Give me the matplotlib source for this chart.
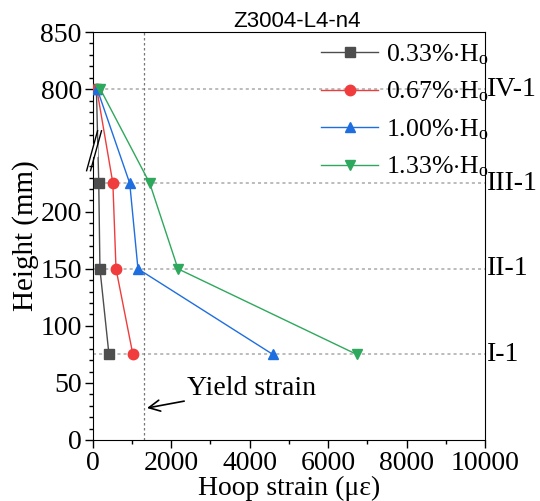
import matplotlib
matplotlib.use("Agg")
import matplotlib.pyplot as plt
import numpy as np

plt.rcParams['font.family'] = ['Liberation Serif', 'DejaVu Serif']
plt.rcParams['mathtext.fontset'] = 'custom'
plt.rcParams['mathtext.rm'] = 'Liberation Serif'
plt.rcParams['mathtext.it'] = 'Liberation Serif:italic'

# data
heights = [800, 225, 150, 75]
drift_labels = [r"0.33%$\cdot$H$_\mathrm{o}$", r"0.67%$\cdot$H$_\mathrm{o}$",
                r"1.00%$\cdot$H$_\mathrm{o}$", r"1.33%$\cdot$H$_\mathrm{o}$"]
strain_033 = [90, 150, 180, 410]
strain_067 = [100, 510, 590, 1020]
strain_100 = [110, 940, 1150, 4590]
strain_133 = [190, 1450, 2170, 6730]
gauge_names = ["IV-1", "III-1", "II-1", "I-1"]
yield_strain = 1300
ytick_vals = [0, 50, 100, 150, 200, 800, 850]

# broken axis: heights above the break are shifted down
BREAK = 250
SHIFT = 492.5


def yt(v):
    v = np.asarray(v, dtype=float)
    return np.where(v > BREAK, v - SHIFT, v)


fig = plt.figure(figsize=(5.4, 5.01), dpi=100)
ax = fig.add_axes([0.172, 0.1218, 0.726, 0.8142])
ytop = float(yt(850))

for h in heights:
    ax.axhline(yt(h), color='#aaaaaa', ls=(0, (2, 2)), lw=1.1, zorder=1)
ax.axvline(yield_strain, color='#777777', ls=(0, (2, 2)), lw=0.9, zorder=1)

styles = [('#4d4d4d', 's'), ('#f03c3c', 'o'), ('#1e6ee0', '^'), ('#2ea85c', 'v')]
for vals, lab, (c, m) in zip([strain_033, strain_067, strain_100, strain_133], drift_labels, styles):
    ax.plot(vals, yt(heights), color=c, marker=m, ms=7.5, lw=1, label=lab, zorder=3)

ax.set_xlim(0, 10000)
ax.set_ylim(0, ytop)
ax.set_xticks(np.arange(0, 10001, 2000))
ax.set_xticks(np.arange(1000, 10000, 2000), minor=True)
ax.set_yticks(yt(ytick_vals))
ax.set_yticklabels([str(v) for v in ytick_vals])
minor_y = [v for v in range(10, 250, 10) if v % 50] + [v for v in range(750, 850, 10) if v != 800]
ax.set_yticks(yt(minor_y), minor=True)
ax.tick_params(which='major', direction='out', length=6, width=1, labelsize=20, pad=2)
ax.tick_params(which='minor', direction='out', length=3, width=1)

ax.set_xlabel("Hoop strain (\u03bc\u03b5)", fontsize=20, labelpad=0)
ax.set_ylabel("Height (mm)", fontsize=21, labelpad=1)
ax.set_title("Z3004-L4-n4", fontsize=16, family=['Liberation Sans'], pad=3, x=0.52)

for name, h in zip(gauge_names, heights):
    ax.text(1.004, yt(h), name, transform=ax.get_yaxis_transform(), fontsize=20,
            va='center', ha='left')

# break on the left spine: white gap plus two slashes
ax.add_patch(plt.Rectangle((-0.01, 249 / ytop), 0.02, 10 / ytop,
                           transform=ax.transAxes, color='white', clip_on=False, zorder=5))
for dx in (0, 0.01):
    ax.plot([-0.016 + dx, 0.012 + dx], [236 / ytop, 271 / ytop],
            transform=ax.transAxes, color='black', lw=1, clip_on=False, zorder=6)

ax.annotate("Yield strain", xy=(1380, 28), xytext=(2400, 45), fontsize=20,
            va='center', ha='left',
            arrowprops=dict(arrowstyle='->', color='black', lw=1.2, shrinkA=0, shrinkB=0))

ax.legend(loc='upper right', bbox_to_anchor=(1.035, 1.0), frameon=False, fontsize=18.5,
          handlelength=2.2, labelspacing=0.5, borderaxespad=0.1, handletextpad=0.3,
          borderpad=0.3)

fig.savefig("out.png", dpi=100)
